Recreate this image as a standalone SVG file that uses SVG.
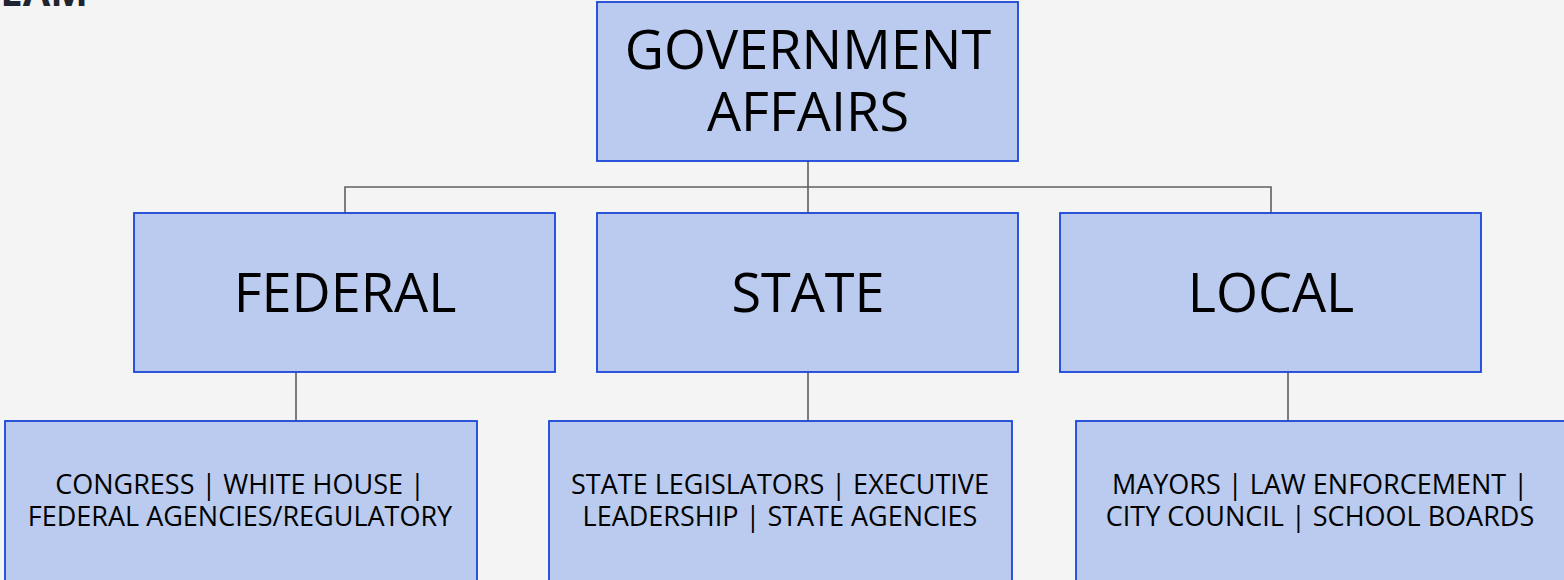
<svg xmlns="http://www.w3.org/2000/svg" width="1564" height="580" viewBox="0 0 1564 580">
<style>
.box{fill:#bacbef;stroke:#1a44d8;stroke-width:1.8}
.conn{fill:none;stroke:#5f5f5f;stroke-width:1.6}
.big{font-family:"Open Sans","Noto Sans",sans-serif;font-size:54px;fill:#000;text-anchor:middle}
.small{font-family:"Open Sans","Noto Sans",sans-serif;font-size:27px;fill:#000;text-anchor:middle}
.head{font-family:"Open Sans","Noto Sans",sans-serif;font-size:40px;font-weight:bold;fill:#1e2530;text-anchor:end}
</style>
<rect width="1564" height="580" fill="#f4f4f4"/>
<text class="head" x="88" y="6">TEAM</text>
<g id="connectors">
<path class="conn" d="M808 161V213M345 213V187H1271V213"/>
<path class="conn" d="M296 371V421"/>
<path class="conn" d="M808 371V421"/>
<path class="conn" d="M1288 371V421"/>
</g>
<g id="gov">
<rect class="box" x="597" y="2" width="421" height="159"/>
<text class="big" x="808" y="69">GOVERNMENT</text>
<text class="big" x="808" y="131">AFFAIRS</text>
</g>
<g id="federal">
<rect class="box" x="134" y="213" width="421" height="159"/>
<text class="big" x="345" y="312">FEDERAL</text>
</g>
<g id="state">
<rect class="box" x="597" y="213" width="421" height="159"/>
<text class="big" x="808" y="312">STATE</text>
</g>
<g id="local">
<rect class="box" x="1060" y="213" width="421" height="159"/>
<text class="big" x="1271" y="312">LOCAL</text>
</g>
<g id="federal-detail">
<rect class="box" x="5" y="421" width="472" height="170"/>
<text class="small" x="240" y="494">CONGRESS | WHITE HOUSE |</text>
<text class="small" x="240" y="526">FEDERAL AGENCIES/REGULATORY</text>
</g>
<g id="state-detail">
<rect class="box" x="549" y="421" width="463" height="170"/>
<text class="small" x="780" y="494">STATE LEGISLATORS | EXECUTIVE</text>
<text class="small" x="780" y="526">LEADERSHIP | STATE AGENCIES</text>
</g>
<g id="local-detail">
<rect class="box" x="1076" y="421" width="500" height="170"/>
<text class="small" x="1320" y="494">MAYORS | LAW ENFORCEMENT |</text>
<text class="small" x="1320" y="526">CITY COUNCIL | SCHOOL BOARDS</text>
</g>
</svg>
